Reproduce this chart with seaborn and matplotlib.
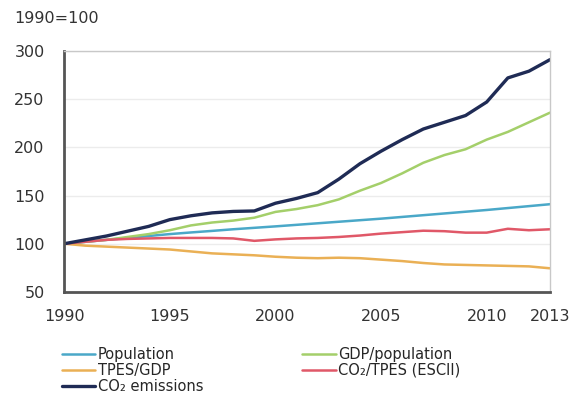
import seaborn as sns
import pandas as pd
import matplotlib
matplotlib.use('Agg')
from matplotlib import pyplot as plt
from matplotlib.ticker import MultipleLocator

years = list(range(1990, 2014))

population = [100, 102, 104, 106, 108, 110, 111.7, 113.3, 115, 116.5, 118, 119.6,
              121.2, 122.8, 124.4, 126, 127.8, 129.6, 131.4, 133.2, 135, 137, 139, 141]
gdp_per_pop = [100, 102, 104, 107, 110, 114, 119, 122, 124, 127, 133, 136,
               140, 146, 155, 163, 173, 184, 192, 198, 208, 216, 226, 236]
tpes_gdp = [100, 98, 97, 96, 95, 94, 92, 90, 89, 88, 86.5, 85.5,
            85, 85.5, 85, 83.5, 82, 80, 78.5, 78, 77.5, 77, 76.5, 74.5]
co2_tpes = [100, 102, 104, 105, 105.5, 106, 106, 106, 105.5, 103, 104.5, 105.5,
            106, 107, 108.5, 110.5, 112, 113.5, 113, 111.5, 111.5, 115.5, 114, 115]
co2_emissions = [100, 104, 108, 113, 118, 125, 129, 132, 133.5, 134, 142, 147,
                 153, 167, 183, 196, 208, 219, 226, 233, 247, 272, 279, 291]

series = {
    'Population': population,
    'GDP/population': gdp_per_pop,
    'TPES/GDP': tpes_gdp,
    'CO₂/TPES (ESCII)': co2_tpes,
    'CO₂ emissions': co2_emissions,
}
colors = {
    'Population': '#4aa8c8',
    'GDP/population': '#a4cf6a',
    'TPES/GDP': '#eab055',
    'CO₂/TPES (ESCII)': '#e05868',
    'CO₂ emissions': '#1f2b55',
}
widths = {'Population': 1.8, 'GDP/population': 1.8, 'TPES/GDP': 1.8,
          'CO₂/TPES (ESCII)': 1.8, 'CO₂ emissions': 2.4}

rows = []
for name, vals in series.items():
    for yr, v in zip(years, vals):
        rows.append({'year': yr, 'value': v, 'series': name})
df = pd.DataFrame(rows)

sns.set_style('white')
plt.rcParams['font.family'] = ['DejaVu Sans']

fig = plt.figure(figsize=(5.73, 4.01), dpi=100)
ax = fig.add_axes([0.112, 0.272, 0.848, 0.601])

for name in series:
    sns.lineplot(data=df[df['series'] == name], x='year', y='value',
                 color=colors[name], linewidth=widths[name], label=name, ax=ax)

ax.set_xlim(1990, 2013)
ax.set_ylim(50, 300)
ax.set_xticks([1990, 1995, 2000, 2005, 2010, 2013])
ax.xaxis.set_minor_locator(MultipleLocator(1))
ax.set_yticks([50, 100, 150, 200, 250, 300])
ax.set_xlabel('')
ax.set_ylabel('')
ax.yaxis.grid(True, color='#ececec', linewidth=1)
ax.set_axisbelow(True)

for side in ['left', 'bottom']:
    ax.spines[side].set_color('#555555')
    ax.spines[side].set_linewidth(2)
for side in ['top', 'right']:
    ax.spines[side].set_color('#c8c8c8')
    ax.spines[side].set_linewidth(1)

ax.tick_params(axis='both', which='major', labelsize=11.5, colors='#555555',
               labelcolor='#333333', length=4, width=1, direction='out')
ax.tick_params(axis='x', which='minor', length=3, width=1, colors='#777777')
ax.tick_params(axis='x', pad=8)
ax.tick_params(axis='y', pad=10)

fig.text(0.024, 0.955, '1990=100', fontsize=11.5, color='#333333', va='center')

handles, labels = ax.get_legend_handles_labels()
order = [0, 2, 4, 1, 3]
ax.legend([handles[i] for i in order], [labels[i] for i in order],
          ncol=2, loc='upper left', bbox_to_anchor=(0.108, 0.134),
          bbox_transform=fig.transFigure, frameon=False, fontsize=10.5,
          labelspacing=0.05, handlelength=2.3, handletextpad=0.15,
          columnspacing=6.8, borderaxespad=0, borderpad=0)

fig.savefig('out.png', dpi=100)
